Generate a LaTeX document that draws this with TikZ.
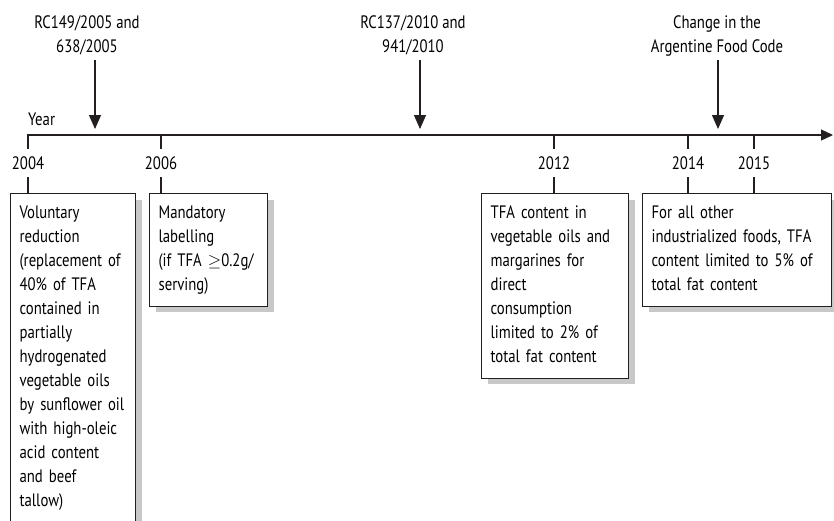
\documentclass[tikz,border=0pt]{standalone}
\usepackage{fontspec}
\setmainfont{PT Sans}[FakeStretch=0.82]
\usetikzlibrary{arrows.meta,shadows}
\definecolor{ink}{HTML}{231F20}
\definecolor{shadowgray}{HTML}{C8C8C8}
\tikzset{
  rule/.style={draw=ink,line width=1.2pt},
  yearlbl/.style={inner sep=0pt,minimum height=28pt,font=\fontsize{18}{24}\selectfont},
  eventlbl/.style={align=center,anchor=south,inner sep=0pt,text depth=7pt,font=\fontsize{18}{24}\selectfont},
  notebox/.style={draw=ink,line width=1.2pt,fill=white,anchor=north west,align=left,
    inner xsep=9pt,inner ysep=12pt,font=\fontsize{18}{24}\selectfont,
    drop shadow={shadow xshift=6pt,shadow yshift=-6pt,fill=shadowgray,opacity=1}}
}
\begin{document}
\begin{tikzpicture}[x=1pt,y=-1pt]
  \useasboundingbox (0,0) rectangle (834,520);

  % time axis
  \coordinate (axisL) at (27,135);
  \coordinate (axisR) at (833,135);
  \draw[rule,-{Triangle[length=12pt,width=11pt]}] (axisL) -- (axisR);
  \node[anchor=base west,inner sep=0pt,font=\fontsize{18}{24}\selectfont] (year) at (28,125) {Year};

  % years
  \node[yearlbl] (y2004) at (28,163) {2004};
  \node[yearlbl] (y2006) at (161,163) {2006};
  \node[yearlbl] (y2012) at (554,163) {2012};
  \node[yearlbl] (y2014) at (688,163) {2014};
  \node[yearlbl] (y2015) at (754,163) {2015};

  % measures (text depth = lines below the first one)
  \node[notebox,text width=107pt,text depth=330pt] (voluntary) at (10,193)
    {Voluntary\\reduction\\(replacement of\\40\% of TFA\\contained in\\partially\\hydrogenated\\vegetable oils\\by sunflower oil\\with high-oleic\\acid content\\and beef\\tallow)};
  \node[notebox,text width=100pt,text depth=76pt] (labelling) at (149,193)
    {Mandatory\\labelling\\(if TFA $\geq$0.2g/\\serving)};
  \node[notebox,text width=129pt,text depth=148pt] (oils) at (481,193)
    {TFA content in\\vegetable oils and\\margarines for\\direct\\consumption\\limited to 2\% of\\total fat content};
  \node[notebox,text width=171pt,text depth=76pt] (foods) at (642,193)
    {For all other\\industrialized foods, TFA\\content limited to 5\% of\\total fat content};

  \foreach \y/\b in {y2004/voluntary,y2006/labelling,y2012/oils,y2014/foods,y2015/foods}{
    \draw[rule] (\y |- axisL) -- (\y.north);
    \draw[rule] (\y.south) -- (\y.south |- \b.north);
  }

  % regulations
  \node[eventlbl] (rc2005) at (87,60) {RC149/2005 and\\638/2005};
  \node[eventlbl] (rc2010) at (413,60) {RC137/2010 and\\941/2010};
  \node[eventlbl] (code) at (717,60) {Change in the\\Argentine Food Code};
  \coordinate (t2005) at (95,129);
  \coordinate (t2010) at (420,129);
  \coordinate (tcode) at (718,129);
  \foreach \e/\t in {rc2005/t2005,rc2010/t2010,code/tcode}
    \draw[rule,-{Triangle[length=14pt,width=12pt]}] (\e.south -| \t) -- (\t);
\end{tikzpicture}
\end{document}
